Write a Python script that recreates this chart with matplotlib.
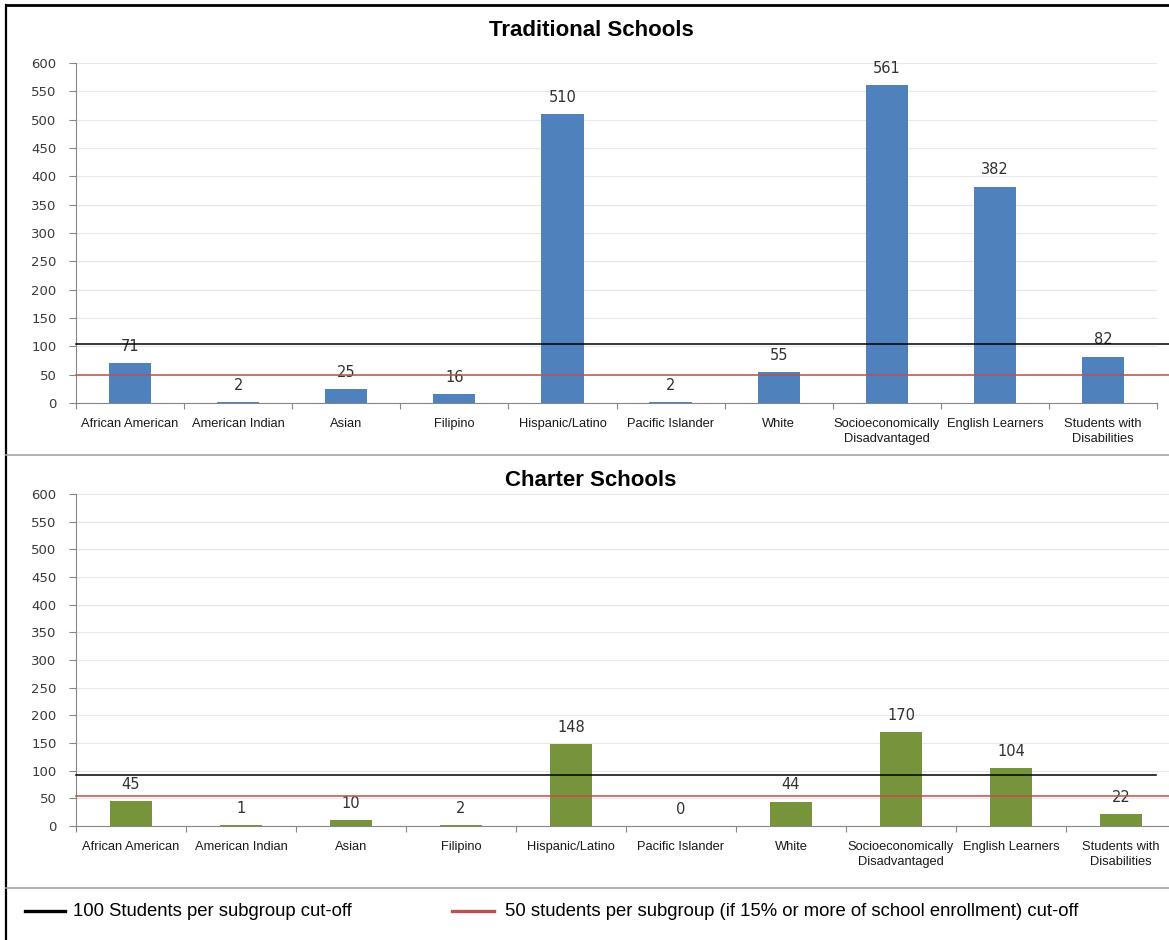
import numpy as np
import matplotlib
matplotlib.use("Agg")
import matplotlib.pyplot as plt
from matplotlib.lines import Line2D

# Data
categories = ["African American", "American Indian", "Asian", "Filipino",
              "Hispanic/Latino", "Pacific Islander", "White",
              "Socioeconomically\nDisadvantaged", "English Learners",
              "Students with\nDisabilities"]
traditional = [71, 2, 25, 16, 510, 2, 55, 561, 382, 82]
charter = [45, 1, 10, 2, 148, 0, 44, 170, 104, 22]
# cut-off lines as drawn on each panel (black, red)
trad_cutoffs = [104, 49]
charter_cutoffs = [92, 54]
legend_labels = ["100 Students per subgroup cut-off",
                 "50 students per subgroup (if 15% or more of school enrollment) cut-off"]

W, H = 1169, 940
fig = plt.figure(figsize=(W/100, H/100), dpi=100, facecolor="white")


def panel(rect, values, color, title, cutoffs, xmax_black, xmax_red):
    ax = fig.add_axes(rect)
    x = np.arange(len(values))
    ax.bar(x, values, width=0.39, color=color, zorder=2)
    ax.set_xlim(-0.5, len(values) - 0.5)
    ax.set_ylim(0, 600)
    ax.set_yticks(np.arange(0, 601, 50))
    ax.tick_params(axis="y", labelsize=9.5, labelcolor="#3a3a3a", length=5,
                   color="#868686", pad=9)
    for t in ax.get_yticklabels():
        t.set_family("DejaVu Sans")
    ax.grid(axis="y", color="#e8e8e8", linewidth=0.8, zorder=0)
    # boundary ticks, labels in the middle
    ax.set_xticks(np.arange(len(values) + 1) - 0.5)
    ax.set_xticklabels([])
    ax.set_xticks(x, minor=True)
    ax.set_xticklabels(categories, minor=True, fontsize=9.3,
                       family="Liberation Sans", linespacing=1.25,
                       color="#1a1a1a")
    ax.tick_params(axis="x", which="major", length=4, color="#868686")
    ax.tick_params(axis="x", which="minor", length=0, pad=11)
    for s in ["top", "right"]:
        ax.spines[s].set_visible(False)
    for s in ["left", "bottom"]:
        ax.spines[s].set_color("#868686")
    for xi, v in zip(x, values):
        ax.annotate(str(v), (xi, v), xytext=(0, 12), textcoords="offset points",
                    ha="center", va="center", fontsize=10.5, color="#303030",
                    family="DejaVu Sans")
    ax.axhline(cutoffs[0], xmin=0, xmax=xmax_black, color="black",
               linewidth=1.1, clip_on=False, zorder=3)
    ax.axhline(cutoffs[1], xmin=0, xmax=xmax_red, color="#c0504d",
               linewidth=1.1, clip_on=False, zorder=3)
    fig.text(591/W, title[1], title[0], ha="center", va="center",
             fontsize=16, fontweight="bold", family="Liberation Sans")
    return ax


panel([76/W, 1 - 403/H, 1081/W, 340/H], traditional, "#4f81bd",
      ("Traditional Schools", 1 - 30/H), trad_cutoffs,
      (W - 76)/1081, (W - 76)/1081)
panel([76/W, 1 - 826/H, 1100/W, 332/H], charter, "#77933c",
      ("Charter Schools", 1 - 481/H), charter_cutoffs,
      (1156 - 76)/1100, (W - 76)/1100)

# frame and separators
fig.add_artist(Line2D([6/W, 6/W], [0, 1 - 5/H], color="black", linewidth=1.6))
fig.add_artist(Line2D([6/W, 1], [1 - 5/H, 1 - 5/H], color="black", linewidth=2))
for yy in [455, 888]:
    fig.add_artist(Line2D([6/W, 1], [1 - yy/H, 1 - yy/H], color="#a6a6a6",
                          linewidth=1.2))

# legend
fig.add_artist(Line2D([25/W, 65/W], [1 - 911/H, 1 - 911/H], color="black",
                      linewidth=2.4))
fig.text(73/W, 1 - 911/H, legend_labels[0], va="center", fontsize=13.3,
         family="Liberation Sans")
fig.add_artist(Line2D([452/W, 494/W], [1 - 911/H, 1 - 911/H], color="#c0504d",
                      linewidth=2.4))
fig.text(505/W, 1 - 911/H, legend_labels[1], va="center", fontsize=13.3,
         family="Liberation Sans")

fig.savefig("out.png", dpi=100, facecolor="white")
